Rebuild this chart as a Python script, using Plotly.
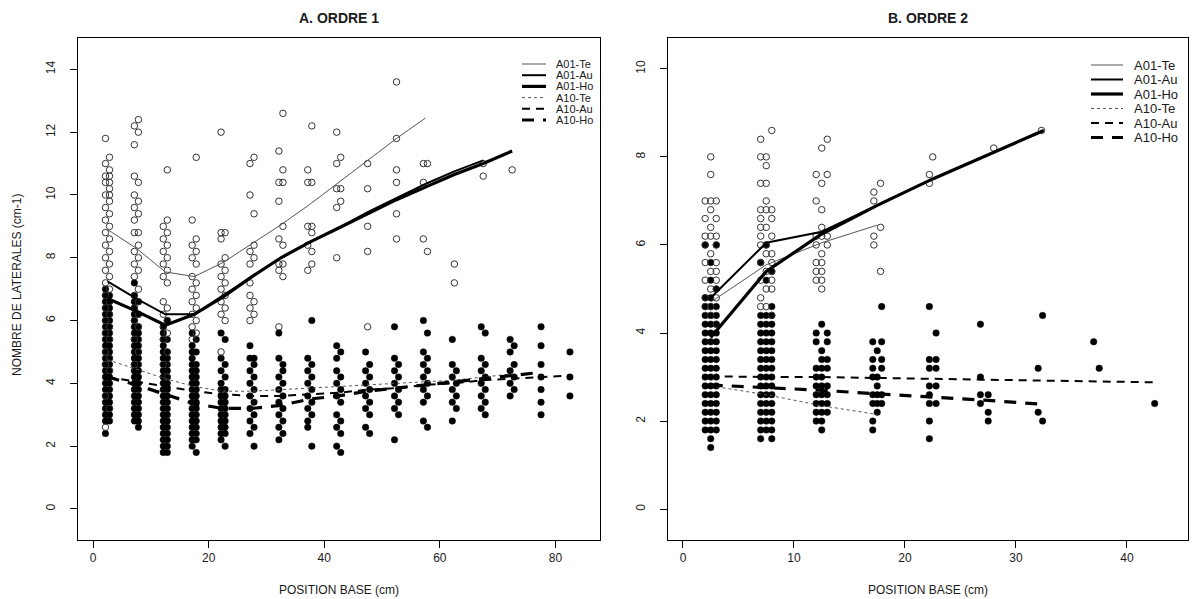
import plotly.graph_objects as go

W, H = 1192, 599

# ---------------- DATA ----------------
# Panel A (ORDRE 1): (position base, [nombre de laterales ...]) for each position
A_A01_PTS = [
    (2.15, [11.8, 11.0, 10.6, 10.4, 10.0, 9.6, 9.2, 8.8, 8.4, 8.0, 7.6, 7.2, 6.8, 6.4, 6.0, 5.6, 5.0, 4.6, 3.6, 2.6]),
    (2.85, [11.2, 10.8, 10.6, 10.4, 10.2, 10.0, 9.8, 9.4, 9.0, 8.6, 8.2, 7.8, 7.4, 7.0, 6.6, 6.2, 5.8, 5.4, 4.8, 4.4, 3.2]),
    (7.15, [12.2, 11.6, 10.6, 10.0, 9.6, 9.2, 8.8, 8.2, 7.8, 7.4, 6.8, 6.4, 6.0, 5.4, 4.6]),
    (7.85, [12.4, 12.0, 10.4, 9.8, 9.4, 8.8, 8.4, 8.0, 7.6, 7.0, 6.6, 6.2, 5.8, 5.0]),
    (12.15, [9.0, 8.6, 8.2, 7.8, 7.4, 6.6, 6.2, 5.8, 5.4, 4.6]),
    (12.85, [10.8, 9.2, 8.8, 8.4, 8.0, 7.6, 7.2, 6.4, 6.0, 5.6, 5.0, 4.2]),
    (17.15, [9.2, 8.4, 8.0, 7.4, 7.0, 6.6, 6.2, 5.8, 5.4]),
    (17.85, [11.2, 8.6, 8.2, 7.8, 7.2, 6.8, 6.4, 6.0, 5.6]),
    (22.15, [12.0, 8.8, 8.6, 7.8, 7.4, 7.0, 6.6, 6.2, 5.0]),
    (22.85, [8.8, 8.0, 7.6, 7.2, 6.8, 6.4, 6.0]),
    (27.15, [11.0, 10.0, 8.2, 7.8, 7.2, 6.8, 6.4, 6.0]),
    (27.85, [11.2, 9.4, 8.4, 8.0, 6.6, 6.2]),
    (32.15, [11.4, 10.4, 9.8, 8.6, 7.8, 7.6, 5.8]),
    (32.85, [12.6, 10.8, 10.4, 9.0, 8.4, 7.8, 7.4]),
    (37.15, [10.8, 10.4, 9.0, 8.4, 7.6]),
    (37.85, [12.2, 10.4, 9.0, 8.8, 8.2, 7.8]),
    (42.15, [12.0, 11.0, 10.2, 9.6, 8.0]),
    (42.85, [11.2, 10.2, 9.8]),
    (47.5, [11.0, 10.2, 9.0, 8.2, 5.8]),
    (52.5, [13.6, 11.8, 10.8, 10.4, 9.4, 8.6]),
    (57.15, [11.0, 10.4, 8.6]),
    (57.85, [11.0, 8.2]),
    (62.5, [7.8, 7.2]),
    (67.5, [11.0, 10.6]),
    (72.5, [10.8]),
]
A_A10_PTS = [
    (2.15, [7.0, 6.8, 6.6, 6.4, 6.2, 6.0, 5.8, 5.6, 5.4, 5.2, 5.0, 4.8, 4.6, 4.4, 4.2, 4.0, 3.8, 3.6, 3.4, 3.2, 3.0, 2.8, 2.4]),
    (2.85, [6.8, 6.6, 6.4, 6.2, 6.0, 5.8, 5.6, 5.4, 5.2, 5.0, 4.8, 4.6, 4.4, 4.2, 4.0, 3.8, 3.6, 3.4, 3.2, 3.0, 2.8]),
    (7.15, [7.2, 6.8, 6.6, 6.4, 6.2, 6.0, 5.8, 5.6, 5.4, 5.2, 5.0, 4.8, 4.6, 4.4, 4.2, 4.0, 3.8, 3.6, 3.4, 3.2, 3.0, 2.8]),
    (7.85, [6.6, 6.2, 5.8, 5.6, 5.4, 5.2, 5.0, 4.8, 4.6, 4.4, 4.2, 4.0, 3.8, 3.6, 3.4, 3.2, 3.0, 2.8, 2.6]),
    (12.15, [5.8, 5.6, 5.4, 5.2, 5.0, 4.8, 4.6, 4.4, 4.2, 4.0, 3.8, 3.6, 3.4, 3.2, 3.0, 2.8, 2.6, 2.4, 2.2, 2.0, 1.8]),
    (12.85, [6.0, 5.4, 5.0, 4.8, 4.6, 4.4, 4.2, 4.0, 3.8, 3.6, 3.4, 3.2, 3.0, 2.8, 2.6, 2.4, 2.2, 2.0, 1.8]),
    (17.15, [5.6, 5.2, 5.0, 4.8, 4.6, 4.4, 4.2, 4.0, 3.8, 3.6, 3.4, 3.2, 3.0, 2.8, 2.6, 2.4, 2.2, 2.0]),
    (17.85, [5.4, 5.0, 4.6, 4.4, 4.2, 4.0, 3.8, 3.6, 3.4, 3.2, 3.0, 2.8, 2.6, 2.4, 2.2, 1.8]),
    (22.15, [5.6, 4.8, 4.4, 4.0, 3.8, 3.6, 3.4, 3.2, 3.0, 2.8, 2.6, 2.4, 2.2]),
    (22.85, [5.4, 4.6, 4.2, 3.8, 3.6, 3.4, 3.2, 3.0, 2.8, 2.6, 2.4, 2.0]),
    (27.15, [5.2, 4.8, 4.4, 4.0, 3.6, 3.2, 2.8, 2.4]),
    (27.85, [4.8, 4.6, 4.2, 3.8, 3.4, 3.0, 2.6, 2.0]),
    (32.15, [5.6, 4.8, 4.2, 3.8, 3.4, 3.0, 2.6, 2.2]),
    (32.85, [4.6, 4.4, 4.0, 3.6, 3.2, 2.8, 2.4]),
    (37.15, [4.8, 4.4, 4.0, 3.6, 3.2, 2.8, 2.6]),
    (37.85, [6.0, 4.6, 4.2, 3.8, 3.4, 3.0, 2.0]),
    (42.15, [5.2, 4.8, 4.4, 4.0, 3.6, 3.0, 2.6, 2.0]),
    (42.85, [5.0, 4.2, 3.8, 3.4, 2.8, 2.4, 1.8]),
    (47.15, [5.0, 4.4, 4.0, 3.6, 3.2, 2.6]),
    (47.85, [4.6, 4.2, 3.8, 3.4, 3.0, 2.4]),
    (52.15, [5.8, 4.8, 4.4, 4.0, 3.6, 3.2, 2.2]),
    (52.85, [4.6, 4.2, 3.8, 3.4, 3.0]),
    (57.15, [6.0, 5.0, 4.6, 4.2, 3.8, 3.4, 2.8]),
    (57.85, [5.6, 4.8, 4.4, 4.0, 3.6, 2.6]),
    (62.15, [5.4, 4.6, 4.2, 3.8, 3.4, 2.8]),
    (62.85, [4.4, 4.0, 3.6, 3.2]),
    (67.15, [5.8, 4.8, 4.4, 4.0, 3.6, 3.2]),
    (67.85, [5.6, 4.6, 4.2, 3.8, 3.4, 3.0]),
    (72.15, [5.4, 5.0, 4.4, 4.0, 3.6]),
    (72.85, [5.2, 4.6, 4.2, 3.8]),
    (77.5, [5.8, 5.2, 4.6, 4.2, 3.8, 3.4, 3.0]),
    (82.5, [5.0, 4.2, 3.6]),
]

# Panel B (ORDRE 2)
B_A01_PTS = [
    (2.0, [7.0, 6.6, 6.2, 6.0, 5.6, 5.2, 4.8, 4.6]),
    (2.5, [8.0, 7.6, 7.0, 6.8, 6.4, 6.2, 5.8, 5.4, 5.0, 4.6, 4.4]),
    (3.0, [7.0, 6.6, 6.2, 6.0, 5.6, 5.4, 5.2, 5.0, 4.8, 4.2]),
    (7.0, [8.4, 8.0, 7.4, 6.8, 6.6, 6.4, 6.2, 6.0, 5.6, 5.2, 4.8, 4.6]),
    (7.5, [8.0, 7.8, 7.4, 7.0, 6.8, 6.4, 6.0, 5.8, 5.4, 5.0, 4.6]),
    (8.0, [8.6, 6.8, 6.6, 6.2, 5.8, 5.6, 5.4, 5.2, 5.0, 4.4]),
    (12.0, [7.6, 7.0, 6.2, 6.0, 5.6, 5.4, 5.2]),
    (12.5, [8.2, 7.4, 6.8, 6.4, 6.2, 5.8, 5.6, 5.4, 5.2, 5.0]),
    (13.0, [8.4, 7.6, 6.2, 6.0]),
    (17.2, [7.2, 7.0, 6.2, 6.0]),
    (17.8, [7.4, 6.4, 5.4]),
    (22.2, [7.6, 7.4]),
    (22.5, [8.0]),
    (28.0, [8.2]),
    (32.3, [8.6]),
]
B_A10_PTS = [
    (2.0, [6.0, 4.8, 4.6, 4.4, 4.2, 4.0, 3.8, 3.6, 3.4, 3.2, 3.0, 2.8, 2.6, 2.4, 2.2, 2.0, 1.8]),
    (2.5, [5.6, 5.2, 4.8, 4.6, 4.4, 4.2, 4.0, 3.8, 3.6, 3.4, 3.2, 3.0, 2.8, 2.6, 2.4, 2.2, 2.0, 1.8, 1.6, 1.4]),
    (3.0, [6.0, 5.0, 4.6, 4.4, 4.2, 4.0, 3.8, 3.6, 3.4, 3.2, 3.0, 2.8, 2.6, 2.4, 2.2, 2.0, 1.8]),
    (7.0, [5.6, 4.4, 4.2, 4.0, 3.8, 3.6, 3.4, 3.2, 3.0, 2.8, 2.6, 2.4, 2.2, 2.0, 1.8, 1.6]),
    (7.5, [6.0, 5.2, 4.4, 4.2, 4.0, 3.8, 3.6, 3.4, 3.2, 3.0, 2.8, 2.6, 2.4, 2.2, 2.0, 1.8]),
    (8.0, [5.4, 4.6, 4.4, 4.2, 4.0, 3.8, 3.6, 3.4, 3.2, 3.0, 2.8, 2.6, 2.4, 2.2, 2.0, 1.8, 1.6]),
    (12.0, [4.0, 3.8, 3.2, 3.0, 2.8, 2.6, 2.4, 2.2, 2.0]),
    (12.5, [4.2, 3.6, 3.4, 3.2, 3.0, 2.8, 2.6, 2.4, 2.2, 2.0, 1.8]),
    (13.0, [4.0, 3.8, 3.4, 3.2, 2.8, 2.6, 2.4, 2.2]),
    (17.1, [3.8, 3.4, 3.2, 3.0, 2.6, 2.4, 2.0, 1.8]),
    (17.5, [3.6, 3.0, 2.8, 2.6, 2.4, 2.2]),
    (17.9, [4.6, 3.8, 3.4, 3.2, 2.6, 2.4]),
    (22.2, [4.6, 3.4, 3.2, 2.8, 2.6, 2.4, 2.0, 1.6]),
    (22.8, [4.0, 3.4, 3.2, 2.8, 2.4]),
    (26.8, [4.2, 3.0, 2.6, 2.4]),
    (27.5, [2.6, 2.2, 2.0]),
    (32.0, [3.2, 2.2]),
    (32.4, [4.4, 2.0]),
    (37.0, [3.8]),
    (37.5, [3.2]),
    (42.5, [2.4]),
]

# Smoothed curves, panel A
A_TE_X = [2.5, 7.5, 12.5, 17.5, 22.5, 27.5, 32.5, 37.5, 42.5, 47.5, 52.5, 57.5]
A_TE_Y = [8.9, 8.3, 7.55, 7.4, 7.85, 8.45, 9.05, 9.7, 10.4, 11.1, 11.8, 12.45]
A_AU_X = [2.5, 7.5, 12.5, 17.5, 22.5, 27.5, 32.5, 37.5, 42.5, 47.5, 52.5, 57.5, 62.5, 67.5]
A_AU_Y = [7.25, 6.7, 6.2, 6.2, 6.8, 7.4, 8.0, 8.5, 8.95, 9.45, 9.9, 10.35, 10.75, 11.1]
A_HO_X = [2.5, 7.5, 12.5, 17.5, 22.5, 27.5, 32.5, 37.5, 42.5, 47.5, 52.5, 57.5, 62.5, 67.5, 72.5]
A_HO_Y = [6.7, 6.3, 5.85, 6.2, 6.75, 7.4, 8.0, 8.5, 8.95, 9.4, 9.85, 10.25, 10.65, 11.0, 11.4]
A_10TE_X = [2.5, 7.5, 12.5, 17.5, 22.5, 27.5, 32.5, 37.5, 42.5, 47.5, 52.5, 57.5, 62.5, 67.5, 72.5]
A_10TE_Y = [4.75, 4.45, 4.15, 3.9, 3.75, 3.75, 3.8, 3.85, 3.9, 3.95, 4.0, 4.05, 4.1, 4.2, 4.3]
A_10AU_X = [2.5, 7.5, 12.5, 17.5, 22.5, 27.5, 32.5, 37.5, 42.5, 47.5, 52.5, 57.5, 62.5, 67.5, 72.5, 77.5, 82.5]
A_10AU_Y = [4.2, 4.05, 3.9, 3.75, 3.65, 3.6, 3.6, 3.65, 3.7, 3.8, 3.85, 3.95, 4.0, 4.1, 4.15, 4.2, 4.25]
A_10HO_X = [2.5, 7.5, 12.5, 17.5, 22.5, 27.5, 32.5, 37.5, 42.5, 47.5, 52.5, 57.5, 62.5, 67.5, 72.5, 77.5]
A_10HO_Y = [4.2, 3.95, 3.65, 3.35, 3.2, 3.2, 3.3, 3.5, 3.6, 3.75, 3.85, 3.95, 4.05, 4.15, 4.25, 4.35]

# Smoothed curves, panel B
B_TE_X = [2.5, 7.5, 12.5, 17.5]
B_TE_Y = [4.7, 5.55, 6.05, 6.45]
B_AU_X = [2.5, 7.5, 12.5, 17.5, 22.5, 27.5, 32.5]
B_AU_Y = [4.8, 6.05, 6.3, 6.9, 7.5, 8.05, 8.6]
B_HO_X = [2.5, 7.5, 12.5, 17.5, 22.5, 27.5, 32.5]
B_HO_Y = [3.9, 5.4, 6.25, 6.9, 7.5, 8.05, 8.6]
B_10TE_X = [2.5, 7.5, 12.5, 17.5]
B_10TE_Y = [2.8, 2.6, 2.35, 2.15]
B_10AU_X = [2.5, 7.5, 12.5, 17.5, 22.5, 27.5, 32.5, 37.5, 42.5]
B_10AU_Y = [3.02, 3.0, 3.0, 2.98, 2.96, 2.94, 2.92, 2.9, 2.88]
B_10HO_X = [2.5, 7.5, 12.5, 17.5, 22.5, 27.5, 32.5]
B_10HO_Y = [2.82, 2.76, 2.7, 2.62, 2.55, 2.47, 2.38]

LEGEND_LABELS = ["A01-Te", "A01-Au", "A01-Ho", "A10-Te", "A10-Au", "A10-Ho"]
PANEL_TITLES = ["A. ORDRE 1", "B. ORDRE 2"]
X_TITLE = "POSITION BASE (cm)"
Y_TITLE = "NOMBRE DE LATERALES (cm-1)"

# ---------------- STYLE ----------------
FONT = "Arial, Liberation Sans, sans-serif"
TXT = "#1a1a1a"
LINE_STYLES = [
    dict(color="#555555", width=1),
    dict(color="black", width=2),
    dict(color="black", width=3.2),
    dict(color="#555555", width=1, dash="3px,3px"),
    dict(color="black", width=2, dash="8px,6px"),
    dict(color="black", width=3.2, dash="12px,9px"),
]


def flat(pts):
    xs, ys = [], []
    for x, vals in pts:
        for v in vals:
            xs.append(x)
            ys.append(v)
    return xs, ys


def px(x):
    return x / W


def py(y):
    return 1 - y / H


fig = go.Figure()

panels = [
    dict(xa="x", ya="y", open=A_A01_PTS, fill=A_A10_PTS,
         curves=[(A_TE_X, A_TE_Y), (A_AU_X, A_AU_Y), (A_HO_X, A_HO_Y),
                 (A_10TE_X, A_10TE_Y), (A_10AU_X, A_10AU_Y), (A_10HO_X, A_10HO_Y)]),
    dict(xa="x2", ya="y2", open=B_A01_PTS, fill=B_A10_PTS,
         curves=[(B_TE_X, B_TE_Y), (B_AU_X, B_AU_Y), (B_HO_X, B_HO_Y),
                 (B_10TE_X, B_10TE_Y), (B_10AU_X, B_10AU_Y), (B_10HO_X, B_10HO_Y)]),
]

for p in panels:
    fx, fy = flat(p["fill"])
    fig.add_trace(go.Scatter(x=fx, y=fy, mode="markers", xaxis=p["xa"], yaxis=p["ya"],
                             marker=dict(symbol="circle", size=6.5, color="black",
                                         line=dict(width=0.5, color="black")),
                             showlegend=False, hoverinfo="skip"))
    ox, oy = flat(p["open"])
    fig.add_trace(go.Scatter(x=ox, y=oy, mode="markers", xaxis=p["xa"], yaxis=p["ya"],
                             marker=dict(symbol="circle-open", size=6.5, color="#333333",
                                         line=dict(width=1, color="#333333")),
                             showlegend=False, hoverinfo="skip"))
    for (cx, cy), st in zip(p["curves"], LINE_STYLES):
        fig.add_trace(go.Scatter(x=cx, y=cy, mode="lines", xaxis=p["xa"], yaxis=p["ya"],
                                 line=st, showlegend=False, hoverinfo="skip"))

# Plot areas (pixels)
A_BOX = (78, 38, 600, 540)
B_BOX = (668, 38, 1188, 540)

axis_common = dict(showline=True, mirror=True, linecolor="black", linewidth=1,
                   ticks="outside", ticklen=7, tickcolor="black", tickwidth=1,
                   showgrid=False, zeroline=False,
                   tickfont=dict(family=FONT, size=12, color=TXT))

fig.update_layout(
    width=W, height=H, autosize=False,
    margin=dict(l=0, r=0, t=0, b=0),
    paper_bgcolor="white", plot_bgcolor="white",
    showlegend=False,
    xaxis=dict(domain=[px(A_BOX[0]), px(A_BOX[2])], range=[-2.6, 87.7],
               tickvals=[0, 20, 40, 60, 80], anchor="y", **axis_common),
    yaxis=dict(domain=[py(A_BOX[3]), py(A_BOX[1])], range=[-0.99, 15.0],
               tickvals=[0, 2, 4, 6, 8, 10, 12, 14], tickangle=-90,
               ticklabelstandoff=10, anchor="x", **axis_common),
    xaxis2=dict(domain=[px(B_BOX[0]), px(B_BOX[2])], range=[-1.35, 45.5],
                tickvals=[0, 10, 20, 30, 40], anchor="y2", **axis_common),
    yaxis2=dict(domain=[py(B_BOX[3]), py(B_BOX[1])], range=[-0.7, 10.7],
                tickvals=[0, 2, 4, 6, 8, 10], tickangle=-90,
                ticklabelstandoff=10, anchor="x2", **axis_common),
)

annotations = []
shapes = []
for title, box in zip(PANEL_TITLES, [A_BOX, B_BOX]):
    cx = (box[0] + box[2]) / 2
    annotations.append(dict(x=px(cx), y=py(18), xref="paper", yref="paper",
                            text="<b>" + title + "</b>", showarrow=False,
                            xanchor="center", yanchor="middle",
                            font=dict(family=FONT, size=14, color=TXT)))
    annotations.append(dict(x=px(cx), y=py(590), xref="paper", yref="paper",
                            text=X_TITLE, showarrow=False,
                            xanchor="center", yanchor="middle",
                            font=dict(family=FONT, size=12, color=TXT)))
annotations.append(dict(x=px(17), y=py(285), xref="paper", yref="paper",
                        text=Y_TITLE, showarrow=False, textangle=-90,
                        xanchor="center", yanchor="middle",
                        font=dict(family=FONT, size=12, color=TXT)))

# Legends (drawn manually to keep R-like compact spacing)
legend_specs = [
    dict(x0=522, x1=546, xt=554, y0=64, dy=11.2, fs=11),
    dict(x0=1091, x1=1123, xt=1132, y0=65, dy=14.5, fs=13),
]
for spec in legend_specs:
    for i, (lab, st) in enumerate(zip(LEGEND_LABELS, LINE_STYLES)):
        yy = spec["y0"] + i * spec["dy"]
        shapes.append(dict(type="line", xref="paper", yref="paper",
                           x0=px(spec["x0"]), x1=px(spec["x1"]), y0=py(yy), y1=py(yy),
                           line=st))
        annotations.append(dict(x=px(spec["xt"]), y=py(yy), xref="paper", yref="paper",
                                text=lab, showarrow=False, xanchor="left", yanchor="middle",
                                font=dict(family=FONT, size=spec["fs"], color=TXT)))

fig.update_layout(annotations=annotations, shapes=shapes)
fig.write_html("out.html", config={"displayModeBar": False, "staticPlot": True},
               post_script="document.body.style.margin='0';document.body.style.overflow='hidden';")
